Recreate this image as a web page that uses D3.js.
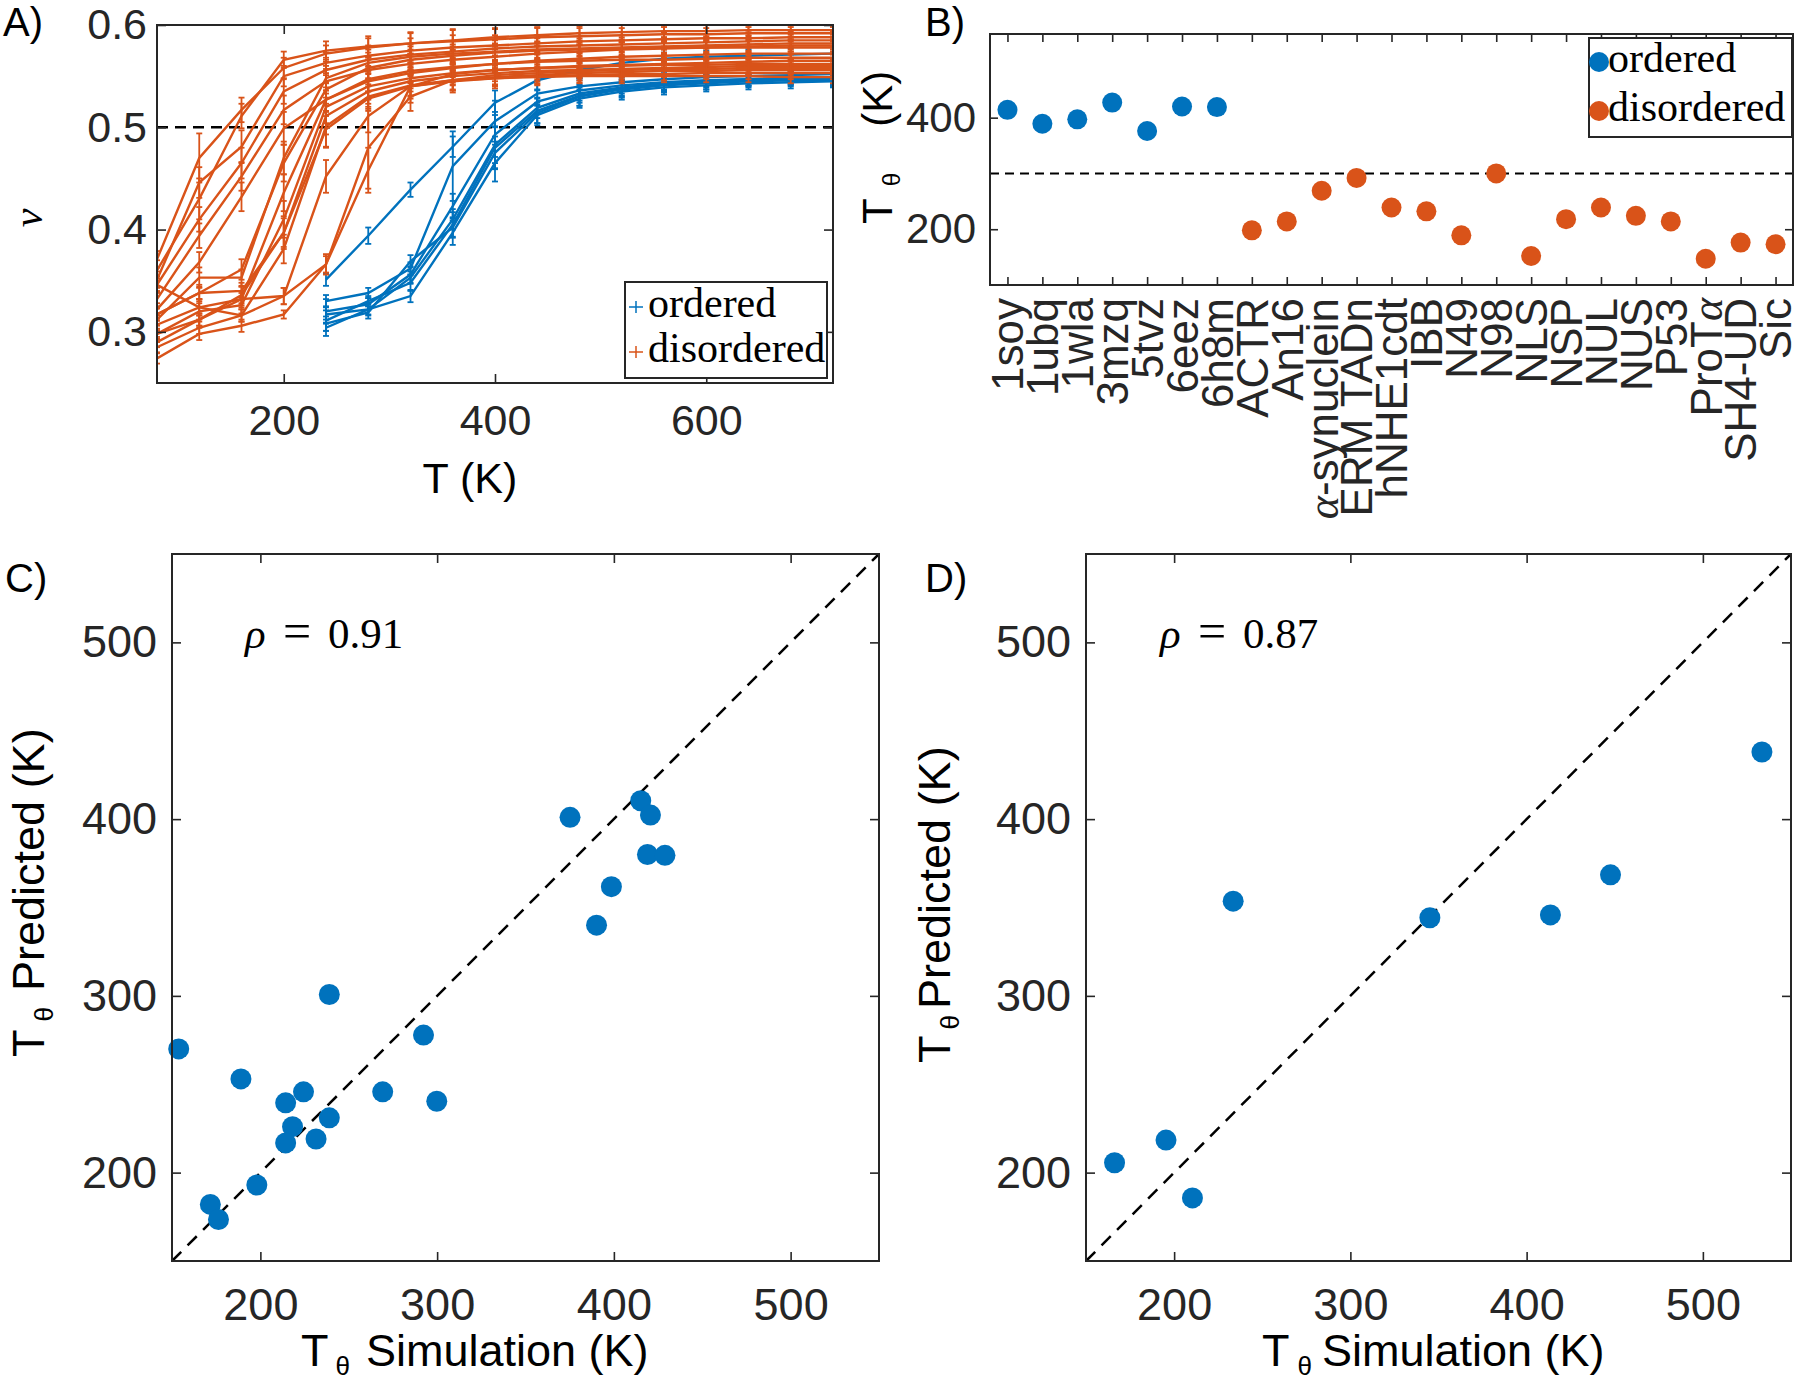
<!DOCTYPE html>
<html>
<head>
<meta charset="utf-8">
<script src="https://cdn.jsdelivr.net/npm/d3@7"></script>
<style>
  body { margin: 0; background: #fff; }
</style>
</head>
<body>
<svg id="fig" width="1800" height="1383"></svg>
<script>
// ---------- data ----------
// panel A: nu vs T
const tempsAll = [80, 120, 160, 200, 240, 280, 320, 360, 400, 440, 480, 520, 560, 600, 640, 680, 720];
const tempsOrdered = [240, 280, 320, 360, 400, 440, 480, 520, 560, 600, 640, 680, 720];

const nuOrdered = [
  [0.351, 0.394, 0.439, 0.481, 0.524, 0.546, 0.556, 0.563, 0.567, 0.569, 0.570, 0.571, 0.572],
  [0.330, 0.338, 0.362, 0.462, 0.506, 0.533, 0.540, 0.544, 0.547, 0.549, 0.550, 0.551, 0.552],
  [0.320, 0.327, 0.356, 0.423, 0.493, 0.525, 0.536, 0.541, 0.544, 0.546, 0.547, 0.548, 0.549],
  [0.317, 0.322, 0.353, 0.410, 0.483, 0.519, 0.533, 0.539, 0.543, 0.545, 0.547, 0.548, 0.548],
  [0.311, 0.330, 0.348, 0.405, 0.480, 0.516, 0.531, 0.538, 0.542, 0.544, 0.546, 0.547, 0.547],
  [0.308, 0.319, 0.369, 0.402, 0.475, 0.514, 0.530, 0.537, 0.541, 0.543, 0.545, 0.546, 0.546],
  [0.304, 0.322, 0.335, 0.397, 0.465, 0.512, 0.528, 0.535, 0.539, 0.541, 0.543, 0.544, 0.545]
];
const errOrdered = [
  [0.006, 0.008, 0.007, 0.010, 0.012, 0.010, 0.008, 0.007, 0.006, 0.006, 0.006, 0.006, 0.006],
  [0.006, 0.005, 0.006, 0.034, 0.020, 0.012, 0.008, 0.007, 0.006, 0.006, 0.006, 0.006, 0.006],
  [0.012, 0.006, 0.008, 0.012, 0.022, 0.012, 0.010, 0.008, 0.007, 0.006, 0.006, 0.006, 0.006],
  [0.008, 0.005, 0.006, 0.010, 0.018, 0.010, 0.009, 0.008, 0.007, 0.006, 0.006, 0.006, 0.006],
  [0.010, 0.005, 0.008, 0.012, 0.020, 0.012, 0.010, 0.008, 0.007, 0.007, 0.006, 0.006, 0.006],
  [0.007, 0.006, 0.006, 0.010, 0.016, 0.010, 0.009, 0.008, 0.007, 0.006, 0.006, 0.006, 0.006],
  [0.008, 0.006, 0.006, 0.012, 0.018, 0.010, 0.009, 0.008, 0.007, 0.006, 0.006, 0.006, 0.006]
];

const nuDisordered = [
  [0.371, 0.470, 0.517, 0.558, 0.572, 0.578, 0.582, 0.585, 0.588, 0.590, 0.592, 0.593, 0.594, 0.594, 0.595, 0.595, 0.595],
  [0.360, 0.430, 0.511, 0.566, 0.575, 0.579, 0.582, 0.584, 0.586, 0.588, 0.589, 0.590, 0.591, 0.591, 0.592, 0.592, 0.592],
  [0.351, 0.446, 0.481, 0.550, 0.563, 0.570, 0.575, 0.578, 0.580, 0.582, 0.584, 0.585, 0.586, 0.587, 0.587, 0.588, 0.588],
  [0.346, 0.410, 0.465, 0.535, 0.556, 0.566, 0.571, 0.574, 0.577, 0.579, 0.580, 0.581, 0.582, 0.583, 0.584, 0.585, 0.585],
  [0.332, 0.394, 0.452, 0.517, 0.545, 0.556, 0.562, 0.566, 0.569, 0.572, 0.574, 0.576, 0.577, 0.578, 0.579, 0.580, 0.580],
  [0.322, 0.368, 0.432, 0.499, 0.527, 0.545, 0.553, 0.558, 0.562, 0.565, 0.567, 0.569, 0.570, 0.571, 0.572, 0.572, 0.572],
  [0.317, 0.338, 0.361, 0.465, 0.537, 0.558, 0.566, 0.570, 0.573, 0.575, 0.576, 0.577, 0.578, 0.578, 0.578, 0.578, 0.578],
  [0.312, 0.353, 0.353, 0.470, 0.548, 0.563, 0.569, 0.572, 0.574, 0.576, 0.577, 0.578, 0.579, 0.580, 0.581, 0.582, 0.582],
  [0.307, 0.324, 0.332, 0.436, 0.527, 0.547, 0.555, 0.559, 0.562, 0.564, 0.565, 0.566, 0.566, 0.567, 0.568, 0.568, 0.568],
  [0.298, 0.320, 0.326, 0.410, 0.520, 0.540, 0.548, 0.553, 0.556, 0.558, 0.560, 0.561, 0.562, 0.563, 0.564, 0.565, 0.565],
  [0.290, 0.312, 0.336, 0.397, 0.511, 0.535, 0.545, 0.550, 0.553, 0.555, 0.556, 0.557, 0.558, 0.559, 0.560, 0.560, 0.560],
  [0.346, 0.324, 0.316, 0.381, 0.501, 0.530, 0.541, 0.546, 0.549, 0.551, 0.553, 0.554, 0.555, 0.555, 0.556, 0.556, 0.556],
  [0.317, 0.338, 0.340, 0.397, 0.498, 0.528, 0.540, 0.545, 0.548, 0.550, 0.551, 0.552, 0.552, 0.553, 0.553, 0.553, 0.553],
  [0.298, 0.312, 0.332, 0.335, 0.452, 0.511, 0.540, 0.552, 0.556, 0.558, 0.559, 0.560, 0.561, 0.561, 0.562, 0.562, 0.562],
  [0.285, 0.304, 0.316, 0.335, 0.366, 0.480, 0.530, 0.546, 0.551, 0.553, 0.555, 0.556, 0.557, 0.557, 0.558, 0.558, 0.558],
  [0.274, 0.298, 0.306, 0.317, 0.366, 0.458, 0.540, 0.546, 0.548, 0.549, 0.550, 0.550, 0.550, 0.550, 0.550, 0.549, 0.549]
];
const errDisordered = [
  [0.008, 0.024, 0.012, 0.010, 0.008, 0.009, 0.010, 0.010, 0.009, 0.008, 0.007, 0.007, 0.006, 0.006, 0.006, 0.006, 0.006],
  [0.010, 0.020, 0.012, 0.008, 0.009, 0.010, 0.011, 0.012, 0.010, 0.009, 0.008, 0.007, 0.007, 0.006, 0.006, 0.006, 0.006],
  [0.008, 0.015, 0.016, 0.010, 0.010, 0.010, 0.012, 0.012, 0.010, 0.008, 0.008, 0.008, 0.007, 0.007, 0.006, 0.006, 0.006],
  [0.008, 0.012, 0.015, 0.012, 0.012, 0.010, 0.010, 0.010, 0.008, 0.008, 0.007, 0.007, 0.006, 0.006, 0.006, 0.006, 0.006],
  [0.007, 0.012, 0.014, 0.014, 0.012, 0.010, 0.010, 0.010, 0.008, 0.008, 0.007, 0.007, 0.006, 0.006, 0.006, 0.006, 0.006],
  [0.006, 0.010, 0.014, 0.016, 0.012, 0.010, 0.010, 0.009, 0.008, 0.008, 0.007, 0.007, 0.006, 0.006, 0.006, 0.006, 0.006],
  [0.006, 0.008, 0.010, 0.018, 0.014, 0.010, 0.010, 0.009, 0.008, 0.008, 0.007, 0.007, 0.006, 0.006, 0.006, 0.006, 0.006],
  [0.006, 0.010, 0.008, 0.016, 0.012, 0.010, 0.010, 0.009, 0.008, 0.008, 0.007, 0.007, 0.006, 0.006, 0.006, 0.006, 0.006],
  [0.006, 0.008, 0.008, 0.018, 0.016, 0.012, 0.010, 0.009, 0.008, 0.008, 0.007, 0.007, 0.006, 0.006, 0.006, 0.006, 0.006],
  [0.005, 0.008, 0.008, 0.018, 0.016, 0.012, 0.010, 0.009, 0.008, 0.008, 0.007, 0.007, 0.006, 0.006, 0.006, 0.006, 0.006],
  [0.005, 0.006, 0.008, 0.016, 0.018, 0.012, 0.010, 0.009, 0.008, 0.008, 0.007, 0.007, 0.006, 0.006, 0.006, 0.006, 0.006],
  [0.006, 0.008, 0.006, 0.014, 0.020, 0.012, 0.010, 0.009, 0.008, 0.008, 0.007, 0.007, 0.006, 0.006, 0.006, 0.006, 0.006],
  [0.006, 0.006, 0.008, 0.014, 0.018, 0.012, 0.010, 0.009, 0.008, 0.008, 0.007, 0.007, 0.006, 0.006, 0.006, 0.006, 0.006],
  [0.005, 0.006, 0.006, 0.008, 0.016, 0.016, 0.012, 0.010, 0.008, 0.008, 0.007, 0.007, 0.006, 0.006, 0.006, 0.006, 0.006],
  [0.005, 0.006, 0.006, 0.008, 0.010, 0.040, 0.014, 0.010, 0.009, 0.008, 0.007, 0.007, 0.006, 0.006, 0.006, 0.006, 0.006],
  [0.005, 0.006, 0.006, 0.004, 0.008, 0.022, 0.016, 0.012, 0.010, 0.008, 0.007, 0.007, 0.006, 0.006, 0.006, 0.006, 0.006]
];

// panel B: theta temperature per protein
const orderedNames = ["1soy", "1ubq", "1wla", "3mzq", "5tvz", "6eez", "6h8m"];
const orderedTheta = [414, 389, 397, 427, 376, 420, 419];
const disorderedNames = ["ACTR", "An16", "α-synuclein", "ERM TADn", "hNHE1cdt", "IBB", "N49", "N98", "NLS",
  "NSP", "NUL", "NUS", "P53", "ProTα", "SH4-UD", "Sic"];
const disorderedTheta = [198, 214, 269, 292, 239, 232, 189, 300, 152, 218, 239, 224, 214, 147, 176, 173];

// panel C: simulation vs predicted
const simC = [153.8, 171.7, 176.3, 198, 189, 214.3, 224.4, 218.2, 214.3, 231.5, 239, 239, 269.2, 292.3, 299.8,
  375.2, 390.2, 398.6, 415.2, 420.7, 419, 428.9];
const predC = [270, 182, 173.5, 193, 253, 239.5, 245.7, 226, 216.8, 219, 231, 300.8, 245.7, 277.8, 240.4,
  401, 340, 361.8, 410.4, 402.3, 380, 379.5];
const rhoC = "0.91";

// panel D: test set
const simD = [166.2, 195.4, 210.4, 233.5, 345.1, 413.5, 447.6, 533.5];
const predD = [205.6, 218.4, 185.7, 353.6, 344.2, 345.8, 368.5, 438];
const rhoD = "0.87";

// tick values
const ticksAx = [200, 400, 600];
const ticksAy = [0.3, 0.4, 0.5, 0.6];
const ticksBy = [200, 400];
const ticksCD = [200, 300, 400, 500];

// ---------- style ----------
const ink = "#262626";
const blue = "#0072BD", orange = "#D95319";
const sans = "'Liberation Sans', Arial, Helvetica, sans-serif";
const serif = "'Liberation Serif', 'Times New Roman', serif";

const svg = d3.select("#fig");
svg.append("rect").attr("width", 1800).attr("height", 1383).attr("fill", "#fff");

function styleAxis(sel, size) {
  sel.select(".domain").remove();
  sel.selectAll(".tick line").attr("stroke", ink).attr("stroke-width", 1.6);
  sel.selectAll(".tick text").attr("fill", ink)
    .style("font-family", sans).style("font-size", size + "px");
}

// box with inward ticks on all four sides (matlab look)
function drawFrame(x, y, o) {
  const [xl, xr] = x.range(), [yb, yt] = y.range();
  const g = svg.append("g");
  g.append("g").attr("transform", `translate(0,${yb})`)
    .call(d3.axisBottom(x).tickValues(o.xTicks).tickSizeInner(-o.tick).tickSizeOuter(0)
      .tickPadding(o.padX).tickFormat(o.fmtX))
    .call(styleAxis, o.font);
  g.append("g").attr("transform", `translate(0,${yt})`)
    .call(d3.axisTop(x).tickValues(o.xTicks).tickSizeInner(-o.tick).tickSizeOuter(0).tickFormat(""))
    .call(styleAxis, o.font);
  g.append("g").attr("transform", `translate(${xl},0)`)
    .call(d3.axisLeft(y).tickValues(o.yTicks).tickSizeInner(-o.tick).tickSizeOuter(0)
      .tickPadding(o.padY).tickFormat(o.fmtY))
    .call(styleAxis, o.font);
  g.append("g").attr("transform", `translate(${xr},0)`)
    .call(d3.axisRight(y).tickValues(o.yTicks).tickSizeInner(-o.tick).tickSizeOuter(0).tickFormat(""))
    .call(styleAxis, o.font);
  g.append("rect")
    .attr("x", xl).attr("y", yt)
    .attr("width", xr - xl).attr("height", yb - yt)
    .attr("fill", "none").attr("stroke", ink).attr("stroke-width", 2);
  return g;
}

function panelLabel(txt, x, y) {
  svg.append("text").attr("x", x).attr("y", y).text(txt)
    .attr("fill", "#000").style("font-family", sans).style("font-size", "40px");
}

// label "T_theta ..." with a small subscript theta
function thetaLabel(x, y, rotate, rest, size, gap1, gap2) {
  const t = svg.append("text")
    .attr("transform", `translate(${x},${y})` + (rotate ? " rotate(-90)" : ""))
    .attr("fill", "#000").style("font-family", sans).style("font-size", size + "px");
  t.append("tspan").text("T");
  t.append("tspan").text("θ").attr("dx", gap1).attr("dy", size * 0.2)
    .style("font-size", (size * 0.58) + "px");
  t.append("tspan").text(rest).attr("dx", gap2).attr("dy", -size * 0.2);
  return t;
}

// ---------- panel A ----------
const xA = d3.scaleLinear().domain([80, 720]).range([157, 833]);
const yA = d3.scaleLinear().domain([0.25, 0.6]).range([383, 25]);

svg.append("clipPath").attr("id", "clipA")
  .append("rect").attr("x", 157).attr("y", 25).attr("width", 676).attr("height", 358);
const gA = svg.append("g").attr("clip-path", "url(#clipA)");

// reference line at nu = 0.5
gA.append("line")
  .attr("x1", xA(80)).attr("x2", xA(720))
  .attr("y1", yA(0.5)).attr("y2", yA(0.5))
  .attr("stroke", "#000").attr("stroke-width", 2.5).attr("stroke-dasharray", "11,7");

function drawSeries(g, temps, vals, errs, color) {
  const line = d3.line().x((d, i) => xA(temps[i])).y(d => yA(d));
  vals.forEach((s, k) => {
    g.append("path").datum(s)
      .attr("d", line).attr("fill", "none")
      .attr("stroke", color).attr("stroke-width", 2.4);
    const pts = s.map((v, i) => ({ t: temps[i], v: v, e: errs[k][i] }));
    const eb = g.append("g").attr("stroke", color).attr("stroke-width", 1.8);
    eb.selectAll(".bar").data(pts).enter().append("line")
      .attr("x1", d => xA(d.t)).attr("x2", d => xA(d.t))
      .attr("y1", d => yA(d.v - d.e)).attr("y2", d => yA(d.v + d.e));
    eb.selectAll(".capLo").data(pts).enter().append("line")
      .attr("x1", d => xA(d.t) - 3).attr("x2", d => xA(d.t) + 3)
      .attr("y1", d => yA(d.v - d.e)).attr("y2", d => yA(d.v - d.e));
    eb.selectAll(".capHi").data(pts).enter().append("line")
      .attr("x1", d => xA(d.t) - 3).attr("x2", d => xA(d.t) + 3)
      .attr("y1", d => yA(d.v + d.e)).attr("y2", d => yA(d.v + d.e));
  });
}
drawSeries(gA, tempsOrdered, nuOrdered, errOrdered, blue);
drawSeries(gA, tempsAll, nuDisordered, errDisordered, orange);

drawFrame(xA, yA, { xTicks: ticksAx, yTicks: ticksAy, tick: 9, font: 43,
  padX: 21, padY: 10, fmtX: d3.format("d"), fmtY: d3.format(".1f") });

// legend A
const legA = svg.append("g");
legA.append("rect").attr("x", 625).attr("y", 282).attr("width", 202).attr("height", 96)
  .attr("fill", "#fff").attr("stroke", ink).attr("stroke-width", 2);
[["ordered", blue, 307], ["disordered", orange, 352]].forEach(([name, c, cy]) => {
  legA.append("line").attr("x1", 629).attr("x2", 643).attr("y1", cy).attr("y2", cy)
    .attr("stroke", c).attr("stroke-width", 1.5);
  legA.append("line").attr("x1", 636).attr("x2", 636).attr("y1", cy - 6).attr("y2", cy + 6)
    .attr("stroke", c).attr("stroke-width", 1.5);
  legA.append("text").attr("x", 648).attr("y", cy + 10).text(name)
    .attr("fill", "#000").style("font-family", serif).style("font-size", "42px");
});

panelLabel("A)", 3, 36);
svg.append("text")
  .attr("transform", "translate(42,218) rotate(-90)")
  .attr("text-anchor", "middle").text("ν")
  .attr("fill", "#000").style("font-family", serif).style("font-style", "italic").style("font-size", "42px");
svg.append("text").attr("x", 470).attr("y", 493).attr("text-anchor", "middle").text("T (K)")
  .attr("fill", "#000").style("font-family", sans).style("font-size", "43px");

// ---------- panel B ----------
const namesB = orderedNames.concat(disorderedNames);
const xB = d3.scalePoint().domain(namesB).range([990, 1793]).padding(0.5);
const yB = d3.scaleLinear().domain([100, 550]).range([285, 34]);

svg.append("line")
  .attr("x1", 990).attr("x2", 1793)
  .attr("y1", yB(300)).attr("y2", yB(300))
  .attr("stroke", "#000").attr("stroke-width", 2).attr("stroke-dasharray", "9,6");

svg.selectAll(".dotOrd").data(orderedNames).enter().append("circle")
  .attr("cx", d => xB(d)).attr("cy", (d, i) => yB(orderedTheta[i]))
  .attr("r", 10).attr("fill", blue);
svg.selectAll(".dotDis").data(disorderedNames).enter().append("circle")
  .attr("cx", d => xB(d)).attr("cy", (d, i) => yB(disorderedTheta[i]))
  .attr("r", 10).attr("fill", orange);

drawFrame(xB, yB, { xTicks: namesB, yTicks: ticksBy, tick: 8, font: 42,
  padX: 10, padY: 14, fmtX: () => "", fmtY: d3.format("d") });

// rotated category labels
svg.append("g").selectAll("text").data(namesB).enter().append("text")
  .attr("transform", d => `translate(${xB(d)},298) rotate(-90)`)
  .attr("text-anchor", "end").attr("dy", "0.36em")
  .attr("fill", ink).style("font-family", sans).style("font-size", "44px")
  .each(function(d) {
    const t = d3.select(this);
    d.split(/(α)/).filter(s => s).forEach(s => {
      const sp = t.append("tspan").text(s);
      if (s === "α") sp.style("font-family", serif).style("font-style", "italic");
    });
  });

// legend B
const legB = svg.append("g");
legB.append("rect").attr("x", 1589).attr("y", 38).attr("width", 203).attr("height", 99)
  .attr("fill", "#fff").attr("stroke", ink).attr("stroke-width", 2);
[["ordered", blue, 62], ["disordered", orange, 111]].forEach(([name, c, cy]) => {
  legB.append("circle").attr("cx", 1599).attr("cy", cy).attr("r", 10).attr("fill", c);
  legB.append("text").attr("x", 1608).attr("y", cy + 10).text(name)
    .attr("fill", "#000").style("font-family", serif).style("font-size", "42px");
});

panelLabel("B)", 925, 36);
thetaLabel(892, 224, true, "(K)", 42, 12, 46);

// ---------- panels C and D ----------
function scatterPanel(sim, pred, x0, x1, rho, rhoX) {
  const x = d3.scaleLinear().domain([150, 550]).range([x0, x1]);
  const y = d3.scaleLinear().domain([150, 550]).range([1261, 554]);

  svg.append("line")
    .attr("x1", x(150)).attr("y1", y(150)).attr("x2", x(550)).attr("y2", y(550))
    .attr("stroke", "#000").attr("stroke-width", 2.5).attr("stroke-dasharray", "13,9");

  svg.append("g").selectAll("circle").data(sim).enter().append("circle")
    .attr("cx", d => x(d)).attr("cy", (d, i) => y(pred[i]))
    .attr("r", 10.5).attr("fill", blue);

  drawFrame(x, y, { xTicks: ticksCD, yTicks: ticksCD, tick: 9, font: 45,
    padX: 27, padY: 15, fmtX: d3.format("d"), fmtY: d3.format("d") });

  // rho annotation
  const t = svg.append("text").attr("y", 648)
    .attr("fill", "#000").style("font-family", serif).style("font-size", "43px");
  t.append("tspan").attr("x", rhoX).style("font-style", "italic").text("ρ");
  t.append("tspan").attr("x", rhoX + 38).style("font-size", "50px").text("=");
  t.append("tspan").attr("x", rhoX + 83).text(rho);
}

scatterPanel(simC, predC, 172, 879, rhoC, 245);
panelLabel("C)", 5, 592);
thetaLabel(301, 1366, false, "Simulation (K)", 45, 7, 16);
thetaLabel(44, 1057, true, "Predicted (K)", 45, 8, 16);

scatterPanel(simD, predD, 1086, 1791, rhoD, 1160);
panelLabel("D)", 925, 592);
thetaLabel(1262, 1366, false, "Simulation (K)", 45, 8, 10);
thetaLabel(950, 1063, true, "Predicted (K)", 45, 6, 6);
</script>
</body>
</html>
